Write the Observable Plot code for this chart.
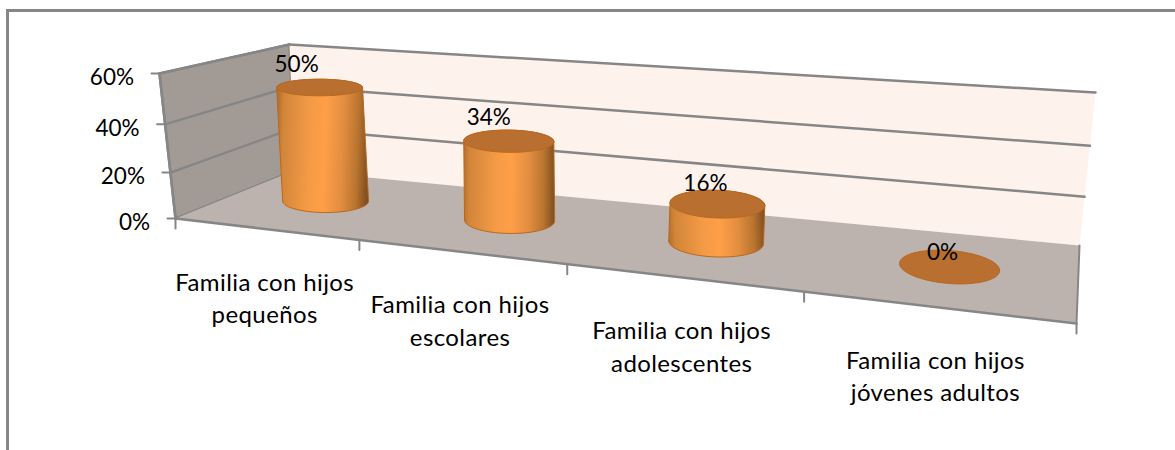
<!DOCTYPE html>
<html>
<head>
<meta charset="utf-8">
<script src="https://cdn.jsdelivr.net/npm/d3@7"></script>
<script src="https://cdn.jsdelivr.net/npm/@observablehq/plot@0.6"></script>
<style>
  html, body { margin: 0; padding: 0; background: #fff; }
  #chart { position: relative; width: 1175px; height: 450px; overflow: hidden; }
  #chart svg { position: absolute; left: 0; top: 0; background: transparent; }
  #chart svg .category-label text { letter-spacing: 0.4px; }
  #frame { position: absolute; left: 6px; top: 9px; right: -10px; bottom: -10px;
           border-left: 3px solid #868686; border-top: 3px solid #868686; }
</style>
</head>
<body>
<div id="chart"><div id="frame"></div></div>
<script>
// ---- data ----
const categories = [
  "Familia con hijos\npequeños",
  "Familia con hijos\nescolares",
  "Familia con hijos\nadolescentes",
  "Familia con hijos\njóvenes adultos"
];
const values = [0.5, 0.34, 0.16, 0];
const valueLabels = ["50%", "34%", "16%", "0%"];
const axisTicks = [0, 0.2, 0.4, 0.6];
const axisLabels = ["0%", "20%", "40%", "60%"];

// ---- camera: where the corners of the 3D box land on the page ----
const W = 1175, H = 450;
const vMax = 0.6, uMax = categories.length;
const box = {
  f0: [[175, 218], [1076, 323]], // front edge at v=0 (left, right)
  b0: [[294, 170], [1079, 245]], // back edge at v=0
  f1: [[159, 73], [1093, 153]],  // front edge at v=vMax
  b1: [[289, 44], [1095, 92]]    // back edge at v=vMax
};
const valueLabelShift = [[-23, -23], [-20, -23], [-12, -20], [-7, -14]];
const mix = (a, b, k) => [a[0] + (b[0] - a[0]) * k, a[1] + (b[1] - a[1]) * k];
// perspective along the category axis; differs a little front to back
const persp = (u, d) => { const k = 1.3 - 0.055 * d; return u / (u + k * (uMax - u)); };
// perspective along the value axis
const rise = (v, m) => v / (v + m * (vMax - v));
function projectT(t, d, v) {
  const wf = rise(v, 1.08), wb = rise(v, 1 + 0.07 * t);
  const f = mix(mix(box.f0[0], box.f0[1], t), mix(box.f1[0], box.f1[1], t), wf);
  const b = mix(mix(box.b0[0], box.b0[1], t), mix(box.b1[0], box.b1[1], t), wb);
  return mix(f, b, d);
}
const project = (u, d, v) => projectT(persp(u, d), d, v);

// ---- geometry built from the data ----
const edge = (a, b) => [a, b];
const polyMark = (pts, o) => Plot.line(pts, {x: p => p[0], y: p => p[1], ...o});
const frameStroke = "#868686";

const leftWall = [project(0,0,0), project(0,0,vMax), project(0,1,vMax), project(0,1,0), project(0,0,0)];
const backWall = [project(0,1,0), project(0,1,vMax), project(uMax,1,vMax), project(uMax,1,0), project(0,1,0)];
const floor = [project(0,0,0), project(0,1,0), project(uMax,1,0), project(uMax,0,0), project(0,0,0)];

const centerD = 0.55, rd = 0.225;
const marks = [];
marks.push(() => {
  const ns = "http://www.w3.org/2000/svg";
  const defs = document.createElementNS(ns, "defs");
  values.forEach((val, i) => {
    const base = project(i + 0.5, centerD, 0), top = project(i + 0.5, centerD, val);
    const tilt = val > 0 ? Math.atan2(base[0] - top[0], base[1] - top[1]) * 180 / Math.PI : 0;
    const g = document.createElementNS(ns, "linearGradient");
    g.setAttribute("id", "cyl" + i);
    g.setAttribute("gradientTransform", `rotate(${tilt} 0.5 0.5)`);
    [[0, "#b5702f"], [0.06, "#d28539"], [0.35, "#f49a45"], [0.52, "#ff9f48"], [0.72, "#e28d40"], [0.88, "#b9742f"], [1, "#7f4e20"]]
      .forEach(([o, c]) => {
        const s = document.createElementNS(ns, "stop");
        s.setAttribute("offset", o); s.setAttribute("stop-color", c);
        g.appendChild(s);
      });
    defs.appendChild(g);
  });
  return defs;
});

marks.push(polyMark(leftWall, {fill: "#a29b95", stroke: frameStroke, strokeWidth: 2.5}));
marks.push(polyMark(backWall, {fill: "#fef2ec", stroke: "none"}));
marks.push(polyMark(floor, {fill: "#bdb3ae", stroke: "none"}));

// gridlines: left wall and back wall
axisTicks.forEach(v => {
  if (v > 0) {
    marks.push(polyMark(edge(project(0,0,v), project(0,1,v)), {stroke: frameStroke, strokeWidth: 2.5}));
    marks.push(polyMark(edge(project(0,1,v), project(uMax,1,v)), {stroke: frameStroke, strokeWidth: 2.5}));
  }
});
marks.push(polyMark(edge(project(uMax,0,0), project(uMax,1,0)), {stroke: frameStroke, strokeWidth: 2}));
// axis lines and ticks
marks.push(polyMark(edge(project(0,0,0), project(uMax,0,0)), {stroke: frameStroke, strokeWidth: 2.5}));
marks.push(polyMark(edge(project(0,0,0), project(0,0,vMax)), {stroke: frameStroke, strokeWidth: 2.5}));
axisTicks.forEach(v => {
  const p = project(0,0,v);
  marks.push(polyMark(edge(p, [p[0] - 8, p[1]]), {stroke: frameStroke, strokeWidth: 2}));
});
d3.range(uMax + 1).forEach(u => {
  const p = project(u,0,0);
  marks.push(polyMark(edge(p, [p[0], p[1] + 10]), {stroke: frameStroke, strokeWidth: 2}));
});

// cylinders: the projected circles are nearly level ellipses round the projected centre
const angles = d3.range(0, 361, 6).map(a => a * Math.PI / 180);
function ring(i, v) {
  const t0 = persp(i + 0.5, centerD);
  const c = projectT(t0, centerD, v);
  const front = projectT(t0, 0, v), back = projectT(t0, 1, v);
  const rx = 42 + 9.5 * t0, ry = rd * (front[1] - back[1]), slope = 0.1 * t0 * t0;
  return angles.map(a => [
    c[0] + rx * Math.cos(a),
    c[1] + slope * rx * Math.cos(a) - ry * Math.sin(a)
  ]);
}
values.forEach((val, i) => {
  const lo = ring(i, 0), hi = ring(i, val);
  if (val > 0) {
    // silhouette: near half of the base, then far half of the top
    const body = [...lo.slice(30), ...hi.slice(0, 31), lo[30]];
    marks.push(polyMark(body, {fill: `url(#cyl${i})`, stroke: "#b8691f", strokeWidth: 1}));
  }
  marks.push(polyMark(hi, {fill: "#b96f30", stroke: "#b8691f", strokeWidth: 1}));
});

// text
const valueFont = {fontFamily: "Lato", fontSize: 22.5, fill: "#000"};
const categoryFont = {fontFamily: "Lato", fontSize: 24, fill: "#000"};
marks.push(Plot.text(values, {
  x: (v, i) => project(i + 0.5, centerD, v)[0] + valueLabelShift[i][0],
  y: (v, i) => project(i + 0.5, centerD, v)[1] + valueLabelShift[i][1],
  text: (v, i) => valueLabels[i], ...valueFont
}));
marks.push(Plot.text(axisTicks, {
  x: v => project(0,0,v)[0] - 25.5,
  y: v => project(0,0,v)[1] + 4,
  text: (v, i) => axisLabels[i], textAnchor: "end", ...valueFont
}));
marks.push(Plot.text(categories, {
  x: (c, i) => project(i + 0.5, 0, 0)[0],
  y: (c, i) => project(i + 0.5, 0, 0)[1] + 67.5,
  text: c => c, lineHeight: 1.35, className: "category-label", ...categoryFont
}));

const chart = Plot.plot({
  width: W, height: H,
  margin: 0,
  style: {background: "transparent"},
  x: {domain: [0, W], range: [0, W], axis: null},
  y: {domain: [0, H], range: [0, H], axis: null},
  marks
});
document.getElementById("chart").appendChild(chart);
</script>
</body>
</html>
